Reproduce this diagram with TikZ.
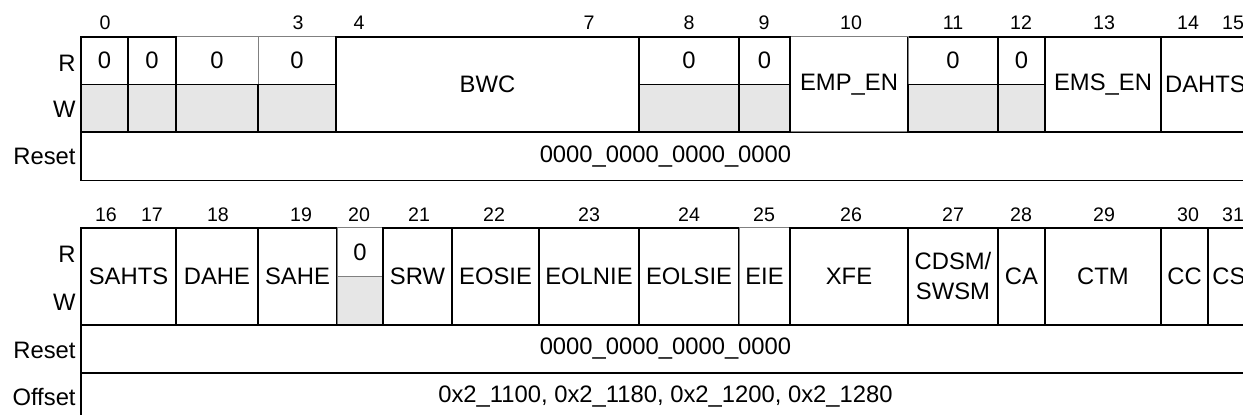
\documentclass[tikz,border=0pt]{standalone}
\usepackage{fontspec}
\setmainfont{Liberation Sans}
\usetikzlibrary{fit}
\definecolor{rsvdgray}{RGB}{230,230,230}
\definecolor{faintgray}{RGB}{128,128,128}
\newcommand\regfont{\fontsize{11.9}{15}\selectfont}
\newcommand\bitfont{\fontsize{9.8}{11}\selectfont}
\begin{document}
\begin{tikzpicture}[
    x=0.5pt,
    y=-0.5pt,
    field/.style={
        draw,
        line width=0.75pt,
        inner sep=0pt,
        outer sep=0pt
    },
    rsvd/.style={
        field,
        fill=rsvdgray
    },
    faint/.style={
        field,
        draw=faintgray,
        line width=0.5pt
    },
    every label/.style={
        font=\regfont,
        inner sep=0pt,
        align=center
    },
    bitno/.style={
        font=\bitfont,
        inner sep=0pt
    },
    rowname/.style={
        anchor=east,
        font=\regfont,
        inner sep=0pt
    }
]
\useasboundingbox (0,0) rectangle (1243,415);
\clip (0,0) rectangle (1243,415);

% Bit numbers
\foreach \b/\x in {0/105, 3/298, 4/359, 7/589, 8/689, 9/764, 10/851, 11/953,
                   12/1021, 13/1104, 14/1188, 15/1233}
    \node [bitno] (bit\b) at (\x,23) {\b};
\foreach \b/\x in {16/106, 17/152, 18/218, 19/301, 20/359, 21/419, 22/494, 23/589,
                   24/689, 25/764, 26/851, 27/953, 28/1021, 29/1104, 30/1188, 31/1233}
    \node [bitno] (bit\b) at (\x,215) {\b};

% Row names
\node [rowname] (rA) at (76,63) {R};
\node [rowname] (wA) at (76,109) {W};
\node [rowname] (resetA) at (76,156) {Reset};
\node [rowname] (rB) at (76,254) {R};
\node [rowname] (wB) at (76,302) {W};
\node [rowname] (resetB) at (76,350) {Reset};
\node [rowname] (offset) at (76,397) {Offset};

% Bits 0-15
\node [field, fit={(81,132) (1250,180.5)}, label=center:0000\_0000\_0000\_0000] (rstA) {};
\node [faint, fit={(176,37) (258,84.5)}, label=center:0] (b2r) {};
\node [faint, fit={(258,37) (336,84.5)}, label=center:0] (b3r) {};
\node [field, fit={(81,37) (128,84.5)}, label=center:0] (b0r) {};
\node [field, fit={(128,37) (176,84.5)}, label=center:0] (b1r) {};
\node [rsvd, fit={(81,84.5) (128,132)}] (b0w) {};
\node [rsvd, fit={(128,84.5) (176,132)}] (b1w) {};
\node [rsvd, fit={(176,84.5) (258,132)}] (b2w) {};
\node [rsvd, fit={(258,84.5) (336,132)}] (b3w) {};
\node [field, fit={(336,37) (639,132)}, label=center:BWC] (bwc) {};
\node [field, fit={(908,37) (998,84.5)}, label=center:0] (b11r) {};
\node [faint, fit={(790,37) (908,132)}, label=center:EMP\_EN] (empen) {};
\node [field, fit={(639,37) (739,84.5)}, label=center:0] (b8r) {};
\node [field, fit={(739,37) (790,84.5)}, label=center:0] (b9r) {};
\node [rsvd, fit={(639,84.5) (739,132)}] (b8w) {};
\node [rsvd, fit={(739,84.5) (790,132)}] (b9w) {};
\node [rsvd, fit={(908,84.5) (998,132)}] (b11w) {};
\node [field, fit={(998,37) (1045,84.5)}, label=center:0] (b12r) {};
\node [rsvd, fit={(998,84.5) (1045,132)}] (b12w) {};
\node [field, fit={(1045,37) (1161,132)}, label=center:EMS\_EN] (emsen) {};
\node [field, fit={(1161,37) (1250,132)}, label=center:DAHTS] (dahts) {};

% Bits 16-31
\node [field, fit={(81,228) (176,325)}, label=center:SAHTS] (sahts) {};
\node [field, fit={(176,228) (258,325)}, label=center:DAHE] (dahe) {};
\node [field, fit={(258,228) (337,325)}, label=center:SAHE] (sahe) {};
\node [faint, fit={(337,228) (383,277)}, label=center:0] (b20r) {};
\node [faint, fill=rsvdgray, fit={(337,277) (383,325)}] (b20w) {};
\node [field, fit={(383,228) (452,325)}, label=center:SRW] (srw) {};
\node [field, fit={(452,228) (539,325)}, label=center:EOSIE] (eosie) {};
\node [field, fit={(539,228) (639,325)}, label=center:EOLNIE] (eolnie) {};
\node [field, fit={(639,228) (739,325)}, label=center:EOLSIE] (eolsie) {};
\node [faint, fit={(739,228) (790,325)}, label=center:EIE] (eie) {};
\node [field, fit={(790,228) (908,325)}, label=center:XFE] (xfe) {};
\node [field, fit={(908,228) (998,325)}, label={center:CDSM/\\SWSM}] (cdsm) {};
\node [field, fit={(998,228) (1045,325)}, label=center:CA] (ca) {};
\node [field, fit={(1045,228) (1161,325)}, label=center:CTM] (ctm) {};
\node [field, fit={(1161,228) (1208,325)}, label=center:CC] (cc) {};
\node [field, fit={(1208,228) (1250,325)}, label=center:CS] (cs) {};
\node [field, fit={(81,325) (1250,373)}, label=center:0000\_0000\_0000\_0000] (rstB) {};
\node [field, fit={(81,373) (1250,421)}, label={center:0x2\_1100, 0x2\_1180, 0x2\_1200, 0x2\_1280}] (ofs) {};

\end{tikzpicture}
\end{document}
